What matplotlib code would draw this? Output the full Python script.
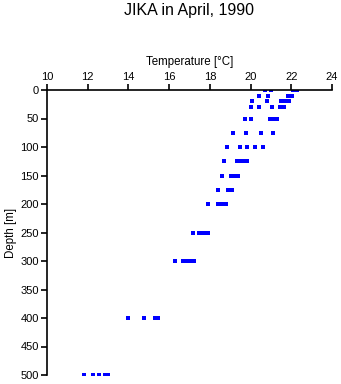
import matplotlib
matplotlib.use('Agg')
import matplotlib.pyplot as plt

plt.rcParams['font.family'] = ['Liberation Sans', 'DejaVu Sans']

# depth [m] and the temperatures [degC] read at each depth
depths = [0, 10, 20, 30, 50, 75, 100, 125, 150, 175, 200, 250, 300, 400, 500]
temps = [
    [20.7, 21.0, 22.1, 22.2, 22.3],
    [20.42, 20.87, 21.85, 21.95, 22.05],
    [20.05, 20.82, 21.5, 21.6, 21.7, 21.9],
    [20.03, 20.42, 21.07, 21.46, 21.55, 21.65],
    [19.73, 20.0, 20.95, 21.05, 21.15, 21.28],
    [19.14, 19.78, 20.5, 21.1],
    [18.83, 19.49, 19.82, 20.2, 20.6],
    [18.7, 19.35, 19.5, 19.65, 19.82],
    [18.6, 19.05, 19.2, 19.38],
    [18.4, 18.9, 19.02, 19.1],
    [17.91, 18.4, 18.58, 18.7, 18.8],
    [17.19, 17.45, 17.6, 17.75, 17.92],
    [16.3, 16.7, 16.85, 17.0, 17.08, 17.22],
    [13.97, 14.76, 15.3, 15.45],
    [11.8, 12.26, 12.54, 12.85, 13.0],
]

xs = []
ys = []
for d, tl in zip(depths, temps):
    for t in tl:
        xs.append(t)
        ys.append(d)

fig = plt.figure(figsize=(3.41, 3.84), dpi=100)
ax = fig.add_axes([47 / 341, 1 - 375 / 384, 285 / 341, 285 / 384])

ax.plot(xs, ys, 's', color='#0000ff', markersize=2.6, markeredgewidth=0)

ax.set_xlim(10, 24)
ax.set_ylim(500, 0)
ax.set_xticks(range(10, 25, 2))
ax.set_yticks(range(0, 501, 50))

ax.xaxis.tick_top()
ax.xaxis.set_label_position('top')
ax.spines['bottom'].set_visible(False)
ax.spines['right'].set_visible(False)
ax.spines['left'].set_linewidth(1.2)
ax.spines['top'].set_linewidth(1.2)
ax.tick_params(direction='out', length=4, width=1.2, labelsize=8, pad=2)

ax.set_xlabel('Temperature [°C]', fontsize=8.3, labelpad=5)
ax.set_ylabel('Depth [m]', fontsize=8.3)
ax.yaxis.set_label_coords(-0.105, 0.5)

fig.text(189.5 / 341, 1 - 10 / 384, 'JIKA in April, 1990', ha='center', va='center', fontsize=11.5)

fig.savefig('out.png', dpi=100)
